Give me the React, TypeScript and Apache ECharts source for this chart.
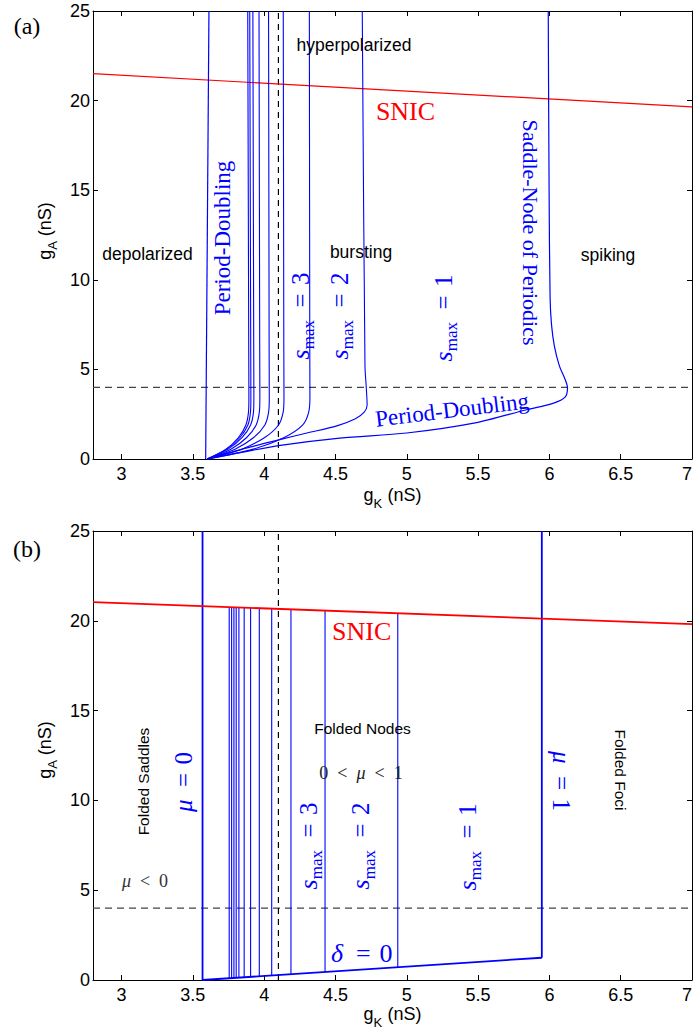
import React, { useEffect, useRef } from 'react';
import * as echarts from 'echarts';

// ---------- data ----------
const X_TICKS = [3, 3.5, 4, 4.5, 5, 5.5, 6, 6.5, 7];
const X_MIN = 2.8;
const X_MAX = 7;
const Y_MIN = 0;
const Y_MAX = 25;

// panel (a)
const snicA = [[2.8, 21.5], [7, 19.65]];
const pdLeftA = [[3.59, 0], [3.613, 25]];
const famA1 = [[3.6, 0], [3.732, 0.55], [3.82, 1.2], [3.872, 1.9], [3.89, 2.6], [3.893, 3.4], [3.892, 6], [3.885, 25]];
const famA2 = [[3.6, 0], [3.738, 0.55], [3.83, 1.2], [3.886, 1.9], [3.904, 2.6], [3.907, 3.4], [3.906, 6], [3.899, 25]];
const famA3 = [[3.6, 0], [3.748, 0.55], [3.846, 1.2], [3.905, 1.9], [3.925, 2.6], [3.928, 3.4], [3.927, 6], [3.921, 25]];
const famA4 = [[3.6, 0], [3.767, 0.55], [3.878, 1.2], [3.944, 1.9], [3.966, 2.6], [3.97, 3.4], [3.969, 6], [3.964, 25]];
const famA5 = [[3.6, 0], [3.796, 0.55], [3.927, 1.2], [4.005, 1.9], [4.031, 2.6], [4.036, 3.4], [4.035, 6], [4.031, 25]];
const famA6 = [[3.6, 0], [3.843, 0.55], [4.004, 1.2], [4.101, 1.9], [4.133, 2.6], [4.139, 3.4], [4.138, 6], [4.134, 25]];
const famA7 = [[3.6, 0], [3.924, 0.55], [4.141, 1.2], [4.271, 1.9], [4.312, 2.6], [4.321, 3.4], [4.32, 6], [4.317, 25]];
const famA8 = [[3.6, 0], [3.88, 0.62], [4.11, 1.08], [4.3, 1.45], [4.51, 1.85], [4.64, 2.25], [4.7, 2.6], [4.722, 3.0], [4.716, 4], [4.707, 5.2], [4.688, 25]];
const snpA = [[3.6, 0], [3.85, 0.38], [4.1, 0.75], [4.53, 1.17], [5.0, 1.45], [5.47, 2.0], [5.84, 2.75], [6.03, 3.12], [6.11, 3.45], [6.127, 3.96], [6.11, 4.45], [6.07, 5.2], [6.035, 6.3], [6.015, 7.5], [6.005, 9], [5.998, 15], [5.992, 25]];
const hDashA = [[2.8, 4], [7, 4]];
const vDashA = [[4.1, 0], [4.1, 25]];

// panel (b)
const snicB = [[2.8, 21.04], [7, 19.82]];
const mu0B = [[3.568, 0], [3.568, 25]];
const deltaB = [[3.568, 0], [5.947, 1.24]];
const mu1B = [[5.947, 1.24], [5.947, 25]];
const sLinesX = [3.755, 3.772, 3.788, 3.804, 3.823, 3.86, 3.905, 3.966, 4.053, 4.188, 4.427, 4.937];
const sLinesLow = [0.097, 0.106, 0.115, 0.123, 0.133, 0.152, 0.176, 0.207, 0.253, 0.323, 0.448, 0.714];
const sLinesHigh = [20.763, 20.758, 20.753, 20.748, 20.743, 20.732, 20.719, 20.701, 20.676, 20.637, 20.567, 20.419];
const hDashB = [[2.8, 4], [7, 4]];
const vDashB = [[4.1, 0], [4.1, 25]];

// ---------- styles ----------
const BLUE = '#0000ff';
const RED = '#ff0000';
const SANS = 'Liberation Sans';
const SERIF = 'Liberation Serif';

const GRIDS = [
  { left: 93, top: 11, width: 599, height: 448, outerBoundsMode: 'none', containLabel: false },
  { left: 93, top: 531, width: 599, height: 449, outerBoundsMode: 'none', containLabel: false },
];

function xAxes(gi: number) {
  const common = {
    type: 'value',
    gridIndex: gi,
    min: X_MIN,
    max: X_MAX,
    splitLine: { show: false },
    axisLine: { show: true, onZero: false, lineStyle: { color: '#000', width: 1 } },
    axisTick: { show: true, inside: true, length: 5, customValues: X_TICKS, lineStyle: { color: '#000', width: 1 } },
  };
  return [
    {
      ...common,
      position: 'bottom',
      axisLabel: {
        show: true,
        customValues: X_TICKS,
        margin: 6,
        color: '#000',
        fontFamily: SANS,
        fontSize: 18,
        lineHeight: 18,
        hideOverlap: false,
        alignMaxLabel: 'right',
      },
    },
    { ...common, position: 'top', axisLabel: { show: false } },
  ];
}

function yAxes(gi: number) {
  const common = {
    type: 'value',
    gridIndex: gi,
    min: Y_MIN,
    max: Y_MAX,
    interval: 5,
    splitLine: { show: false },
    axisLine: { show: true, onZero: false, lineStyle: { color: '#000', width: 1 } },
    axisTick: { show: true, inside: true, length: 5, lineStyle: { color: '#000', width: 1 } },
  };
  return [
    {
      ...common,
      position: 'left',
      axisLabel: { show: true, margin: 3, color: '#000', fontFamily: SANS, fontSize: 18 },
    },
    { ...common, position: 'right', axisLabel: { show: false } },
  ];
}

function line(data: number[][], gi: number, color: string, width: number, opts: any = {}) {
  return {
    type: 'line',
    xAxisIndex: gi * 2,
    yAxisIndex: gi * 2,
    data,
    symbol: 'none',
    showSymbol: false,
    silent: true,
    smooth: opts.smooth ?? false,
    lineStyle: { color, width, type: opts.dash ?? 'solid' },
    z: opts.z ?? 2,
  };
}

function txt(text: string, x: number, y: number, font: string, size: number, fill: string, rotation = 0, extra: any = {}) {
  return {
    type: 'text',
    x,
    y,
    rotation,
    z: 100,
    style: { text, fontFamily: font, fontSize: size, fill, align: 'center', verticalAlign: 'middle', ...extra },
  };
}

// horizontal axis title: g, subscript, " (nS)" as three texts laid out from a centre
function xTitle(sub: string, cx: number, cy: number) {
  const left = cx - 29;
  const base = { fontFamily: SANS, fill: '#000', verticalAlign: 'middle' };
  return [
    { type: 'text', x: left, y: cy, z: 100, style: { ...base, text: 'g', fontSize: 18, lineHeight: 12, align: 'left' } },
    { type: 'text', x: left + 10, y: cy + 8, z: 100, style: { ...base, text: sub, fontSize: 13, lineHeight: 11, align: 'left' } },
    { type: 'text', x: left + 19, y: cy, z: 100, style: { ...base, text: ' (nS)', fontSize: 18, lineHeight: 12, align: 'left' } },
  ];
}

function yTitle(sub: string, x: number, y: number) {
  return {
    type: 'text',
    x,
    y,
    rotation: Math.PI / 2,
    z: 100,
    style: {
      text: `{g|g}{s|${sub}}{t| (nS)}`,
      align: 'center',
      verticalAlign: 'middle',
      rich: {
        g: { fontFamily: SANS, fontSize: 18, fill: '#000', lineHeight: 28 },
        s: { fontFamily: SANS, fontSize: 13, fill: '#000', lineHeight: 12, verticalAlign: 'bottom' },
        t: { fontFamily: SANS, fontSize: 18, fill: '#000', lineHeight: 28 },
      },
    },
  };
}

function smax(n: string, x: number, y: number) {
  return {
    type: 'text',
    x,
    y,
    rotation: Math.PI / 2,
    z: 100,
    style: {
      text: `{s|s}{m|max}{n|\u2002=\u2004${n}}`,
      align: 'center',
      verticalAlign: 'middle',
      rich: {
        s: { fontFamily: SERIF, fontStyle: 'italic', fontSize: 26, lineHeight: 34, fill: BLUE },
        m: { fontFamily: SERIF, fontSize: 17, lineHeight: 17, verticalAlign: 'bottom', fill: BLUE },
        n: { fontFamily: SERIF, fontSize: 25, lineHeight: 34, fill: BLUE },
      },
    },
  };
}

function mathTxt(parts: [string, boolean][], x: number, y: number, size: number, fill: string, rotation = 0) {
  const rich: any = {
    i: { fontFamily: SERIF, fontStyle: 'italic', fontSize: size, fill },
    r: { fontFamily: SERIF, fontSize: size, fill },
  };
  const text = parts.map(([t, it]) => `{${it ? 'i' : 'r'}|${t}}`).join('');
  return {
    type: 'text',
    x,
    y,
    rotation,
    z: 100,
    style: { text, align: 'center', verticalAlign: 'middle', rich },
  };
}

export default function App() {
  const ref = useRef<HTMLDivElement>(null);
  useEffect(() => {
    document.body.style.margin = '0';
    if (!ref.current) return;
    const chart = echarts.init(ref.current, undefined, { renderer: 'svg' });
    const series: any[] = [];
    // panel a
    series.push(line(hDashA, 0, '#444', 1.2, { dash: [7, 5], z: 1 }));
    series.push(line(vDashA, 0, '#000', 1.2, { dash: [6, 5], z: 1 }));
    series.push(line(snicA, 0, RED, 1.2));
    series.push(line(pdLeftA, 0, BLUE, 1.2));
    [famA1, famA2, famA3, famA4, famA5, famA6, famA7, famA8].forEach((d) =>
      series.push(line(d, 0, BLUE, 1.1, { smooth: 0.3 }))
    );
    series.push(line(snpA, 0, BLUE, 1.2, { smooth: 0.3 }));
    // panel b
    series.push(line(hDashB, 1, '#444', 1.2, { dash: [7, 5], z: 1 }));
    series.push(line(vDashB, 1, '#000', 1.2, { dash: [6, 5], z: 1 }));
    series.push(line(snicB, 1, RED, 1.8, { z: 3 }));
    series.push(line(mu0B, 1, BLUE, 1.8));
    series.push(line(deltaB, 1, BLUE, 1.8));
    series.push(line(mu1B, 1, BLUE, 1.8));
    sLinesX.forEach((x, i) =>
      series.push(line([[x, sLinesLow[i]], [x, sLinesHigh[i]]], 1, BLUE, 1.1))
    );

    const graphic: any[] = [
      // axis titles
      ...xTitle('K', 392.5, 495),
      yTitle('A', 45, 231),
      ...xTitle('K', 392.5, 1014),
      yTitle('A', 45, 750),
      // panel a
      txt('(a)', 27, 26, SERIF, 24, '#000'),
      txt('hyperpolarized', 354, 45, SANS, 17.5, '#000'),
      txt('SNIC', 405.5, 111, SERIF, 26, RED),
      txt('Period-Doubling', 222.5, 238, SERIF, 23, BLUE, Math.PI / 2),
      txt('depolarized', 147.5, 254, SANS, 17.5, '#000'),
      txt('bursting', 361, 252, SANS, 17.5, '#000'),
      txt('spiking', 608, 255, SANS, 17.5, '#000'),
      smax('3', 300, 316),
      smax('2', 339, 316),
      smax('1', 443, 318),
      txt('Saddle-Node of Periodics', 530, 232.5, SERIF, 22, BLUE, -Math.PI / 2),
      txt('Period-Doubling', 452, 410, SERIF, 23, BLUE, 0.12),
      // panel b
      txt('(b)', 27, 549, SERIF, 24, '#000'),
      txt('SNIC', 361.7, 631, SERIF, 26, RED),
      txt('Folded Nodes', 362.5, 728, SANS, 15.5, '#000'),
      mathTxt([['0\u2002<\u2002', false], ['\u03bc', true], ['\u2002<\u20021', false]], 361, 772.5, 18, '#222'),
      txt('Folded Saddles', 143.5, 781.5, SANS, 15.5, '#000', Math.PI / 2),
      mathTxt([['\u03bc', true], ['\u2002=\u20040', false]], 183, 782, 25, BLUE, Math.PI / 2),
      mathTxt([['\u03bc', true], ['\u2002<\u20020', false]], 145, 881, 18, '#333'),
      smax('3', 308, 846),
      smax('2', 360.7, 846),
      smax('1', 467, 847),
      mathTxt([['\u03bc', true], ['\u2002=\u20041', false]], 561.5, 781, 25, BLUE, -Math.PI / 2),
      mathTxt([['\u03b4', true], ['\u2002=\u20040', false]], 361.7, 953, 26, BLUE),
      txt('Folded Foci', 620, 770, SANS, 15.5, '#000', -Math.PI / 2),
    ];

    chart.setOption({
      animation: false,
      backgroundColor: '#fff',
      grid: GRIDS,
      xAxis: [...xAxes(0), ...xAxes(1)],
      yAxis: [...yAxes(0), ...yAxes(1)],
      series,
      graphic,
    });
    return () => chart.dispose();
  }, []);
  return <div ref={ref} style={{ width: 694, height: 1030 }} />;
}
